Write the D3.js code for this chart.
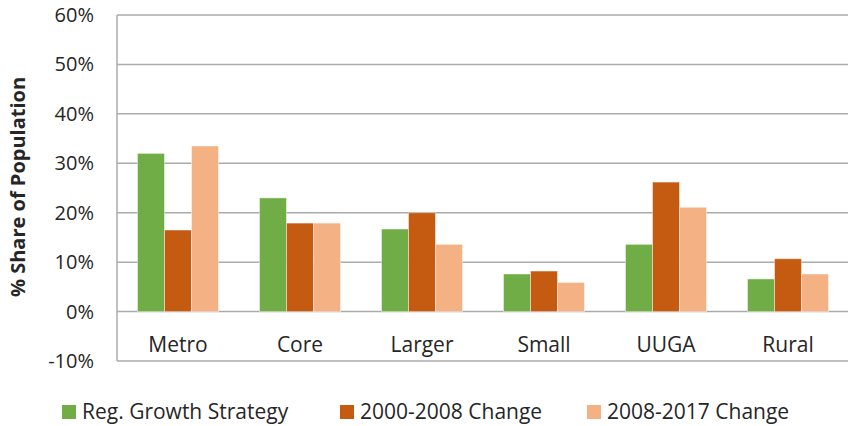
<!DOCTYPE html>
<html><head><meta charset="utf-8">
<script src="https://cdn.jsdelivr.net/npm/d3@7"></script>
<style>body{margin:0;background:#fff}svg{display:block}text{font-family:"Open Sans",Lato,sans-serif;fill:#262626}</style>
</head><body><svg id="c" width="848" height="426"></svg>
<script>
const categories = ["Metro","Core","Larger","Small","UUGA","Rural"];
const seriesNames = ["Reg. Growth Strategy","2000-2008 Change","2008-2017 Change"];
const regGrowth = [32.0,23.0,16.7,7.6,13.6,6.6];
const change0008 = [16.5,17.9,20.0,8.2,26.2,10.7];
const change0817 = [33.5,17.9,13.6,5.9,21.1,7.6];
const yTicks = [-10,0,10,20,30,40,50,60];
const colors = ["#70AD47","#C55A11","#F4B183"];
const seriesValues = [regGrowth, change0008, change0817];

const svg = d3.select("#c");
const L=117, R=849, T=15, B=361;
const x = d3.scaleBand().domain(categories).range([L,R]).paddingInner(0.336).paddingOuter(0.168);
const xs = d3.scaleBand().domain(d3.range(3)).range([0,x.bandwidth()]);
const y = d3.scaleLinear().domain([-10,60]).range([B,T]);

// gridlines
svg.append("g").selectAll("line").data(yTicks).join("line")
  .attr("x1",L).attr("x2",R).attr("y1",d=>y(d)).attr("y2",d=>y(d))
  .attr("stroke","#ABABAB").attr("stroke-width",1.5);
svg.append("line").attr("x1",L).attr("x2",L).attr("y1",T).attr("y2",B).attr("stroke","#ABABAB").attr("stroke-width",1.5);

// y labels
svg.append("g").selectAll("text").data(yTicks).join("text")
  .attr("x",94).attr("y",d=>y(d)).attr("dy","0.35em").attr("text-anchor","end")
  .attr("font-size",20).text(d=>d+"%");

// bars
seriesValues.forEach((vals,si)=>{
  svg.append("g").selectAll("rect").data(vals).join("rect")
    .attr("x",(d,i)=>x(categories[i])+xs(si))
    .attr("width",xs.bandwidth())
    .attr("y",d=>y(Math.max(0,d)))
    .attr("height",d=>Math.abs(y(d)-y(0)))
    .attr("fill",colors[si]).attr("stroke","rgba(255,255,255,0.45)").attr("stroke-width",1);
});

// category labels
svg.append("g").selectAll("text").data(categories).join("text")
  .attr("x",d=>x(d)+x.bandwidth()/2).attr("y",345).attr("dy","0.35em").attr("text-anchor","middle")
  .attr("font-size",21).text(d=>d);

// y title
svg.append("text").attr("transform","translate(18,187) rotate(-90)").attr("dy","0.35em")
  .attr("text-anchor","middle").attr("font-size",20).attr("font-weight","bold").text("% Share of Population");

// legend
const legX = [62,340,587];
const lg = svg.append("g").selectAll("g").data(seriesNames).join("g")
  .attr("transform",(d,i)=>`translate(${legX[i]},412)`);
lg.append("rect").attr("x",0).attr("y",-7).attr("width",14).attr("height",14).attr("fill",(d,i)=>colors[i]);
lg.append("text").attr("x",20).attr("dy","0.35em").attr("font-size",21).text(d=>d);
</script></body></html>
